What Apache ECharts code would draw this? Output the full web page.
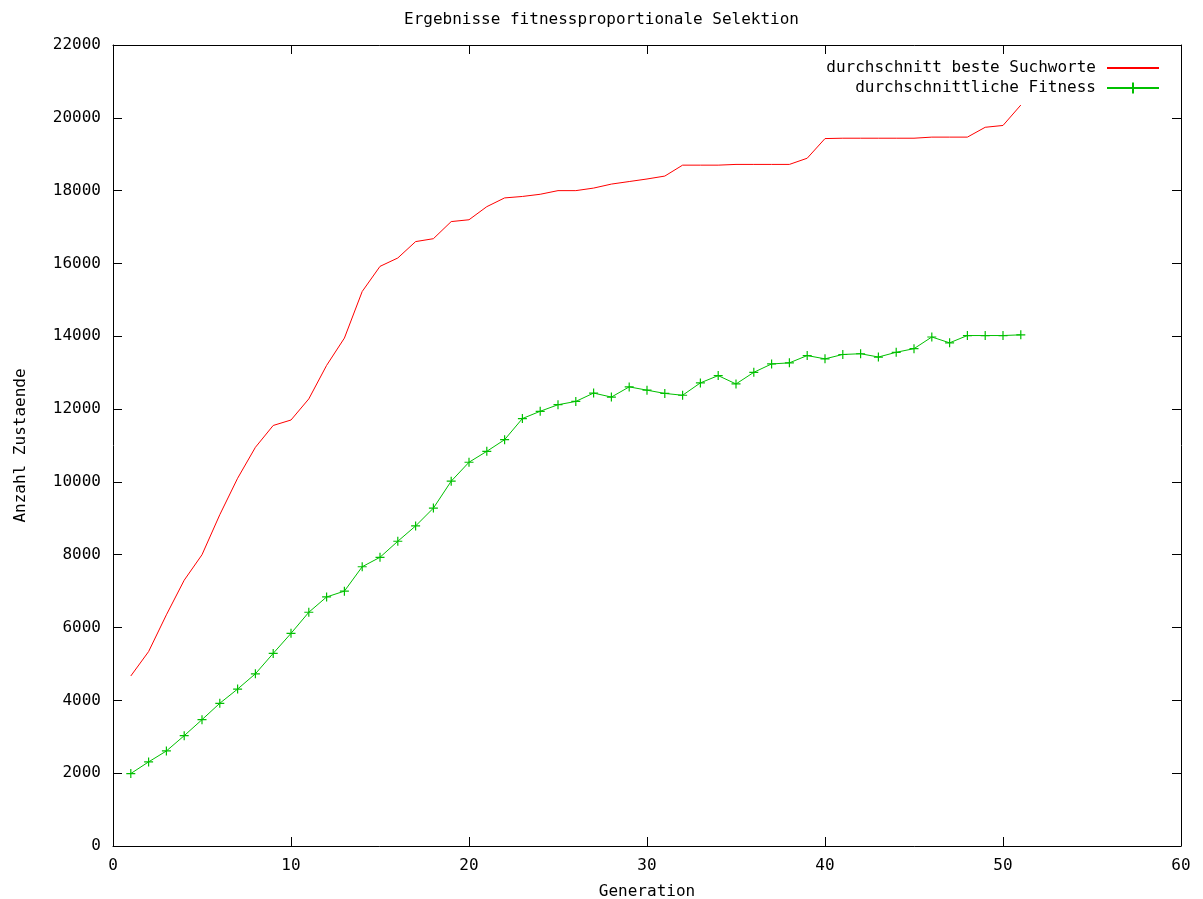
<!DOCTYPE html>
<html>
<head>
<meta charset="utf-8">
<title>Ergebnisse fitnessproportionale Selektion</title>
<script src="https://cdn.jsdelivr.net/npm/echarts@6/dist/echarts.min.js"></script>
<style>
  html, body { margin: 0; padding: 0; background: #fff; }
  #chart { width: 1203px; height: 899px; }
</style>
</head>
<body>
<div id="chart"></div>
<script>
// Generation numbers 1..51
const generations = [
  1, 2, 3, 4, 5, 6, 7, 8, 9, 10,
  11, 12, 13, 14, 15, 16, 17, 18, 19, 20,
  21, 22, 23, 24, 25, 26, 27, 28, 29, 30,
  31, 32, 33, 34, 35, 36, 37, 38, 39, 40,
  41, 42, 43, 44, 45, 46, 47, 48, 49, 50, 51
];

// Durchschnitt der besten Suchworte je Generation
const besteSuchworte = [
  4670, 5340, 6350, 7300, 8000, 9100, 10100, 10950, 11550, 11700,
  12280, 13200, 13950, 15230, 15920, 16150, 16600, 16680, 17150, 17200,
  17560, 17800, 17840, 17900, 18000, 18000, 18070, 18180, 18250, 18320,
  18400, 18700, 18700, 18700, 18720, 18720, 18720, 18720, 18890, 19430,
  19440, 19440, 19440, 19440, 19440, 19470, 19470, 19470, 19740, 19790, 20350
];

// Durchschnittliche Fitness je Generation
const fitness = [
  1990, 2310, 2610, 3030, 3470, 3920, 4310, 4730, 5290, 5840,
  6420, 6840, 7000, 7670, 7930, 8370, 8790, 9280, 10020, 10540,
  10840, 11160, 11740, 11940, 12120, 12210, 12440, 12330, 12610, 12520,
  12430, 12380, 12720, 12920, 12690, 13010, 13240, 13270, 13470, 13380,
  13500, 13520, 13430, 13560, 13660, 13980, 13820, 14020, 14020, 14020, 14040
];

const seriesNames = ['durchschnitt beste Suchworte', 'durchschnittliche Fitness'];
const chartTitle = 'Ergebnisse fitnessproportionale Selektion';
const xAxisName = 'Generation';
const yAxisName = 'Anzahl Zustaende';

const FONT = '"DejaVu Sans Mono", "Liberation Mono", monospace';
const pairs = (ys) => generations.map((g, i) => [g, ys[i]]);
const plain = (v) => String(v);

// Shared look of the four frame axes: black line, inward ticks, no grid
const frameAxis = {
  axisLine: { show: true, onZero: false, lineStyle: { color: '#000', width: 1 } },
  axisTick: { show: true, inside: true, length: 9, lineStyle: { color: '#000', width: 1 } },
  splitLine: { show: false }
};

const chart = echarts.init(document.getElementById('chart'), null, { renderer: 'canvas' });

chart.setOption({
  animation: false,
  backgroundColor: '#fff',
  title: {
    text: chartTitle,
    left: 'center',
    top: 7,
    textStyle: { fontFamily: FONT, fontSize: 16, fontWeight: 'normal', color: '#000' }
  },
  legend: {
    orient: 'vertical',
    align: 'right',
    right: 38,
    top: 55,
    itemWidth: 52,
    itemHeight: 14,
    itemGap: 4,
    textStyle: { fontFamily: FONT, fontSize: 16, color: '#000', padding: [0, 6, 0, 0] },
    data: [
      { name: seriesNames[0], itemStyle: { opacity: 0 } },
      { name: seriesNames[1] }
    ]
  },
  grid: { left: 113, right: 22, top: 45, bottom: 53, containLabel: false, outerBoundsMode: 'none' },
  xAxis: [
    Object.assign({
      type: 'value', min: 0, max: 60, interval: 10, position: 'bottom',
      name: xAxisName, nameLocation: 'middle', nameGap: 38,
      nameTextStyle: { fontFamily: FONT, fontSize: 16, color: '#000' },
      axisLabel: { fontFamily: FONT, fontSize: 16, color: '#000', margin: 12, formatter: plain }
    }, frameAxis),
    Object.assign({
      type: 'value', min: 0, max: 60, interval: 10, position: 'top',
      axisLabel: { show: false }
    }, frameAxis)
  ],
  yAxis: [
    Object.assign({
      type: 'value', min: 0, max: 22000, interval: 2000, position: 'left',
      name: yAxisName, nameLocation: 'middle', nameGap: 84, nameRotate: 90,
      nameTextStyle: { fontFamily: FONT, fontSize: 16, color: '#000' },
      axisLabel: { fontFamily: FONT, fontSize: 16, color: '#000', margin: 12, formatter: plain }
    }, frameAxis),
    Object.assign({
      type: 'value', min: 0, max: 22000, interval: 2000, position: 'right',
      axisLabel: { show: false }
    }, frameAxis)
  ],
  series: [
    {
      name: seriesNames[0],
      type: 'line',
      xAxisIndex: 0, yAxisIndex: 0,
      data: pairs(besteSuchworte),
      symbol: 'none',
      showSymbol: false,
      color: '#ff0000',
      lineStyle: { color: '#ff0000', width: 1 }
    },
    {
      name: seriesNames[1],
      type: 'line',
      xAxisIndex: 0, yAxisIndex: 0,
      data: pairs(fitness),
      symbol: 'path://M0,5L10,5M5,0L5,10',
      symbolSize: 9,
      showSymbol: true,
      color: '#00c000',
      itemStyle: { color: '#00c000', borderColor: '#00c000', borderWidth: 1.2 },
      lineStyle: { color: '#00c000', width: 1 }
    }
  ]
});
</script>
</body>
</html>
